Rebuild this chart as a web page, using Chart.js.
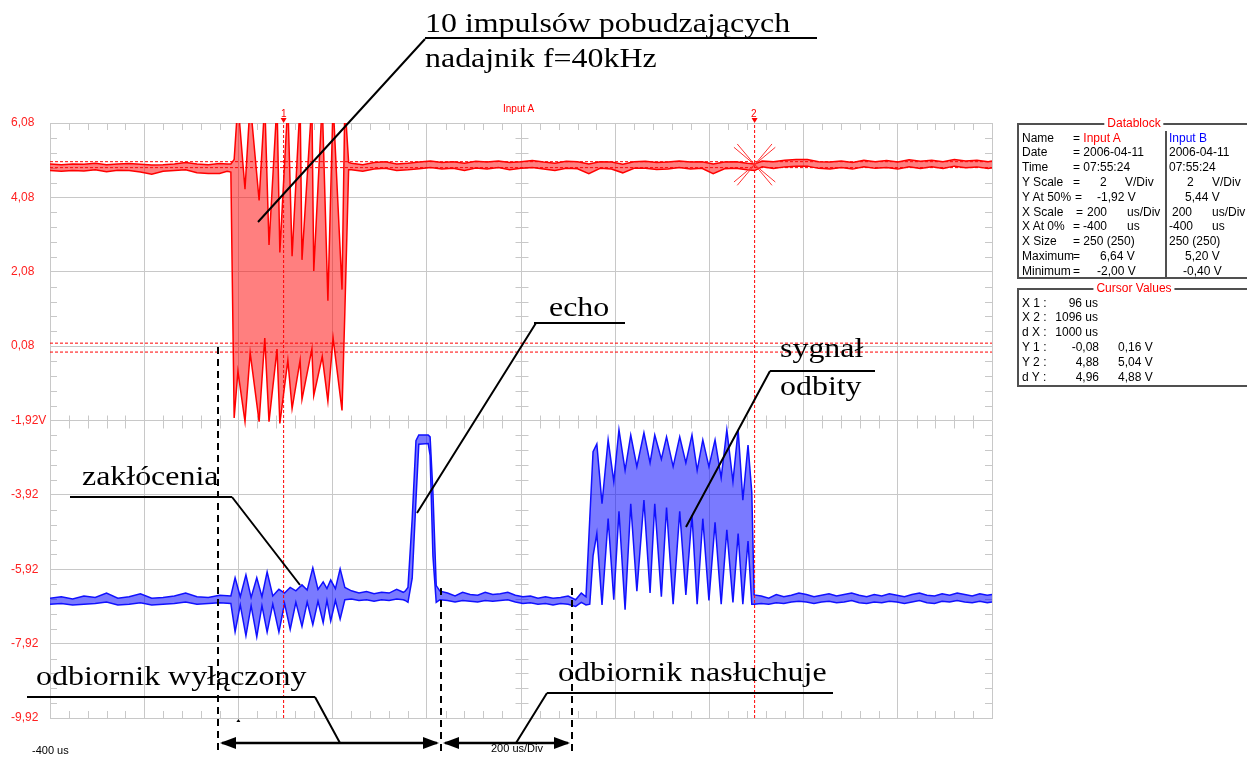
<!DOCTYPE html>
<html>
<head>
<meta charset="utf-8">
<script src="https://cdn.jsdelivr.net/npm/chart.js@4.4.1/dist/chart.umd.min.js"></script>
<style>
  body { margin: 0; background: #fff; overflow: hidden; }
  #wrap { position: relative; width: 1247px; height: 759px; overflow: hidden; }
  canvas { position: absolute; left: 0; top: 0; }
  .big { position: absolute; font-family: 'Liberation Serif', 'Times New Roman', serif; font-size: 28px; line-height: 28px;
         white-space: nowrap; transform: scaleX(1.14); transform-origin: 0 0; color: #000; }
  .s { position: absolute; font-family: 'Liberation Sans', Arial, sans-serif; font-size: 12px; line-height: 12px; white-space: pre; color: #000; }
  .sm { position: absolute; font-family: 'Liberation Sans', Arial, sans-serif; font-size: 10px; line-height: 10px; white-space: pre; }
  .box { position: absolute; border: 2px solid #505050; border-right: none; }
  .ttl { position: absolute; background: #fff; color: #ff0000; font-family: 'Liberation Sans', Arial, sans-serif;
         font-size: 12px; line-height: 12px; padding: 0 3px; transform: translateX(-50%); }
  .r { color: #ff0000; }
  .b { color: #0000ff; }
</style>
</head>
<body>
<div id="wrap">
<canvas id="c" width="1247" height="759"></canvas>

<div class="big" style="left:425px;top:9px">10 impulsów pobudzających</div>
<div class="big" style="left:425px;top:44px">nadajnik f=40kHz</div>
<div class="big" style="left:549px;top:293px">echo</div>
<div class="big" style="left:780px;top:334px">sygnał</div>
<div class="big" style="left:780px;top:372px">odbity</div>
<div class="big" style="left:82px;top:462px">zakłócenia</div>
<div class="big" style="left:36px;top:662px">odbiornik wyłączony</div>
<div class="big" style="left:558px;top:658px">odbiornik nasłuchuje</div>

<div class="sm r" style="left:503px;top:104px">Input A</div>
<div class="sm r" style="left:281px;top:109px">1</div>
<div class="sm r" style="left:751px;top:109px">2</div>
<div class="sm" style="left:32px;top:745px;font-size:11px">-400 us</div>
<div class="sm" style="left:491px;top:743px;font-size:11px">200 us/Div</div>

<!-- Datablock -->
<div class="box" style="left:1017px;top:123px;width:240px;height:152px"></div>
<div style="position:absolute;left:1165px;top:131px;width:2px;height:146px;background:#505050"></div>
<div class="ttl" style="left:1134px;top:117px">Datablock</div>
<div class="s" style="left:1022px;top:132px">Name</div><div class="s" style="left:1073px;top:132px">= <span class="r">Input A</span></div><div class="s b" style="left:1169px;top:132px">Input B</div>
<div class="s" style="left:1022px;top:146px">Date</div><div class="s" style="left:1073px;top:146px">= 2006-04-11</div><div class="s" style="left:1169px;top:146px">2006-04-11</div>
<div class="s" style="left:1022px;top:161px">Time</div><div class="s" style="left:1073px;top:161px">= 07:55:24</div><div class="s" style="left:1169px;top:161px">07:55:24</div>
<div class="s" style="left:1022px;top:176px">Y Scale</div><div class="s" style="left:1073px;top:176px">=</div><div class="s" style="left:1100px;top:176px">2</div><div class="s" style="left:1125px;top:176px">V/Div</div><div class="s" style="left:1187px;top:176px">2</div><div class="s" style="left:1212px;top:176px">V/Div</div>
<div class="s" style="left:1022px;top:191px">Y At 50%</div><div class="s" style="left:1075px;top:191px">=</div><div class="s" style="left:1097px;top:191px">-1,92 V</div><div class="s" style="left:1185px;top:191px">5,44 V</div>
<div class="s" style="left:1022px;top:206px">X Scale</div><div class="s" style="left:1076px;top:206px">=</div><div class="s" style="left:1087px;top:206px">200</div><div class="s" style="left:1127px;top:206px">us/Div</div><div class="s" style="left:1172px;top:206px">200</div><div class="s" style="left:1212px;top:206px">us/Div</div>
<div class="s" style="left:1022px;top:220px">X At 0%</div><div class="s" style="left:1073px;top:220px">=</div><div class="s" style="left:1083px;top:220px">-400</div><div class="s" style="left:1127px;top:220px">us</div><div class="s" style="left:1169px;top:220px">-400</div><div class="s" style="left:1212px;top:220px">us</div>
<div class="s" style="left:1022px;top:235px">X Size</div><div class="s" style="left:1073px;top:235px">= 250 (250)</div><div class="s" style="left:1169px;top:235px">250 (250)</div>
<div class="s" style="left:1022px;top:250px">Maximum</div><div class="s" style="left:1073px;top:250px">=</div><div class="s" style="left:1100px;top:250px">6,64 V</div><div class="s" style="left:1185px;top:250px">5,20 V</div>
<div class="s" style="left:1022px;top:265px">Minimum</div><div class="s" style="left:1073px;top:265px">=</div><div class="s" style="left:1097px;top:265px">-2,00 V</div><div class="s" style="left:1183px;top:265px">-0,40 V</div>

<!-- Cursor values -->
<div class="box" style="left:1017px;top:288px;width:240px;height:95px"></div>
<div class="ttl" style="left:1134px;top:282px">Cursor Values</div>
<div class="s" style="left:1022px;top:297px">X 1 :</div><div class="s" style="right:149px;top:297px">96 us</div>
<div class="s" style="left:1022px;top:311px">X 2 :</div><div class="s" style="right:149px;top:311px">1096 us</div>
<div class="s" style="left:1022px;top:326px">d X :</div><div class="s" style="right:149px;top:326px">1000 us</div>
<div class="s" style="left:1022px;top:341px">Y 1 :</div><div class="s" style="right:148px;top:341px">-0,08</div><div class="s" style="left:1118px;top:341px">0,16 V</div>
<div class="s" style="left:1022px;top:356px">Y 2 :</div><div class="s" style="right:148px;top:356px">4,88</div><div class="s" style="left:1118px;top:356px">5,04 V</div>
<div class="s" style="left:1022px;top:371px">d Y :</div><div class="s" style="right:148px;top:371px">4,96</div><div class="s" style="left:1118px;top:371px">4,88 V</div>
</div>

<script>
// axis divisions (us, V on the Input A scale)
const xTicks = [-400, -200, 0, 200, 400, 600, 800, 1000, 1200, 1400, 1600];
const yTicks = [-9.92, -7.92, -5.92, -3.92, -1.92, 0.08, 2.08, 4.08, 6.08];
// Input B is shown with its own offset: 5,44 V at the screen centre, 2 V/div
const bMin = -2.56, bMax = 13.44;

// cursors
const cursorX = [96, 1096];
const cursorY = [-0.08, 0.16, 4.88, 5.04];

// Input A (red) : time (us), upper and lower trace of the band (V)
const aT = [-400, -376, -352, -328, -304, -280, -256, -232, -208, -184, -160, -136, -112, -88, -64, -40, -24,
  -16, -9, -1, 14, 25, 44, 56, 65, 82, 88, 105, 114, 131, 135, 156, 160, 178, 190, 201, 220, 226, 234,
  240, 264, 288, 312, 336, 360, 384, 408, 432, 456, 480, 504, 528, 552, 576, 600, 624, 648, 672, 696,
  720, 744, 768, 792, 816, 840, 864, 888, 912, 936, 960, 984, 1008, 1032, 1056, 1080, 1096, 1112, 1136, 1160,
  1184, 1208, 1232, 1256, 1280, 1304, 1328, 1352, 1376, 1400, 1424, 1448, 1472, 1496, 1520, 1544, 1568, 1592, 1600];
const aHi = [4.98, 4.96, 4.98, 4.97, 5.00, 4.96, 4.98, 4.99, 4.97, 4.95, 4.96, 4.98, 5.02, 4.98, 4.96, 4.99, 4.98,
  4.98, 5.10, 6.64, 4.30, 6.64, 4.00, 6.64, 2.80, 6.64, 2.60, 6.64, 2.50, 6.64, 2.40, 6.64, 2.10, 6.64, 1.30, 6.64, 1.60, 6.64, 5.02,
  5.00, 4.96, 5.02, 5.04, 4.98, 5.00, 5.03, 5.06, 5.02, 5.04, 5.00, 5.05, 5.03, 5.06, 5.02, 5.04, 5.07, 5.03, 5.00, 5.05,
  5.04, 4.98, 5.04, 5.03, 4.97, 5.04, 5.05, 5.02, 5.03, 5.06, 5.03, 5.04, 4.98, 5.03, 5.04, 5.00, 4.98, 5.06, 5.04, 5.08,
  5.10, 5.10, 5.04, 5.03, 5.06, 5.02, 5.08, 5.04, 5.07, 5.03, 5.09, 5.05, 5.08, 5.04, 5.10, 5.06, 5.08, 5.04, 5.06];
const aLo = [4.80, 4.78, 4.80, 4.79, 4.82, 4.77, 4.81, 4.80, 4.76, 4.70, 4.78, 4.80, 4.82, 4.74, 4.72, 4.72, 4.78,
  4.76, -1.85, -0.60, -1.95, -0.10, -1.95, 0.30, -1.95, 0.00, -2.00, -0.30, -1.60, -0.30, -1.35, 0.00, -1.25, -0.20, -1.40, 0.30, -1.65, 1.00, 4.82,
  4.82, 4.78, 4.84, 4.86, 4.80, 4.82, 4.85, 4.88, 4.84, 4.86, 4.80, 4.87, 4.84, 4.88, 4.82, 4.86, 4.88, 4.84, 4.80, 4.86,
  4.85, 4.72, 4.86, 4.84, 4.74, 4.86, 4.86, 4.83, 4.84, 4.88, 4.84, 4.86, 4.72, 4.85, 4.86, 4.82, 4.80, 4.90, 4.86, 4.90,
  4.92, 4.92, 4.86, 4.84, 4.88, 4.84, 4.90, 4.86, 4.88, 4.84, 4.90, 4.86, 4.90, 4.86, 4.92, 4.88, 4.90, 4.86, 4.88];

// Input B (blue) : time (us), upper and lower trace of the band (V, own scale)
const bT = [-400, -376, -352, -328, -304, -280, -256, -232, -208, -184, -160, -136, -112, -88, -64, -40, -16,
  -7, 4, 16, 27, 39, 50, 61, 73, 86, 98, 110, 122, 135, 146, 158, 169, 180, 188, 196, 206, 216, 226,
  240, 256, 272, 288, 304, 320, 336, 350,
  354, 360, 369, 377, 383, 403, 407, 413, 420, 428,
  444, 460, 476, 492, 508, 524, 540, 556, 572, 588, 604, 620, 636, 652, 668, 684, 700, 716, 728,
  738, 746, 753, 761, 772, 785, 797, 808, 821, 833, 846, 861, 874, 884, 898, 909, 923, 937, 950, 963,
  974, 986, 999, 1012, 1025, 1037, 1050, 1061, 1071, 1082, 1090, 1095,
  1110, 1126, 1142, 1158, 1174, 1190, 1206, 1222, 1238, 1254, 1270, 1286, 1302, 1318, 1334, 1350,
  1366, 1382, 1398, 1414, 1430, 1446, 1462, 1478, 1494, 1510, 1526, 1542, 1558, 1574, 1590, 1600];
const bHi = [0.66, 0.70, 0.64, 0.72, 0.68, 0.80, 0.66, 0.70, 0.78, 0.66, 0.68, 0.72, 0.80, 0.70, 0.68, 0.74, 0.72,
  1.21, 0.70, 1.29, 0.68, 1.21, 0.70, 1.37, 0.72, 0.90, 0.80, 0.95, 0.86, 1.02, 0.88, 1.48, 0.90, 1.10, 0.92, 1.15, 0.92, 1.45, 0.95,
  0.86, 0.80, 0.84, 0.78, 0.82, 0.80, 0.90, 0.82,
  0.85, 0.95, 2.80, 4.90, 5.05, 5.05, 5.00, 3.50, 1.00, 0.85,
  0.80, 0.72, 0.82, 0.76, 0.74, 0.82, 0.76, 0.78, 0.82, 0.74, 0.70, 0.72, 0.66, 0.70, 0.66, 0.68, 0.72, 0.62, 0.80,
  0.70, 2.80, 4.60, 4.81, 3.20, 4.92, 3.80, 5.19, 4.10, 5.05, 4.20, 5.11, 4.30, 5.05, 4.40, 5.00, 4.20, 5.00, 4.30, 5.05,
  4.10, 4.92, 4.20, 4.92, 3.90, 5.19, 3.80, 5.19, 3.30, 4.78, 3.50, 0.75,
  0.72, 0.66, 0.76, 0.70, 0.74, 0.80, 0.76, 0.70, 0.74, 0.78, 0.72, 0.76, 0.80, 0.74, 0.70, 0.76,
  0.72, 0.78, 0.74, 0.70, 0.76, 0.80, 0.74, 0.72, 0.78, 0.74, 0.80, 0.76, 0.72, 0.78, 0.74, 0.76];
const bLo = [0.50, 0.52, 0.48, 0.50, 0.52, 0.56, 0.48, 0.50, 0.54, 0.48, 0.50, 0.52, 0.56, 0.50, 0.52, 0.54, 0.52,
  -0.24, 0.48, -0.35, 0.46, -0.38, 0.46, -0.25, 0.50, -0.25, 0.52, -0.18, 0.55, -0.10, 0.56, -0.05, 0.58, 0.00, 0.60, 0.05, 0.60, 0.10, 0.62,
  0.64, 0.60, 0.62, 0.58, 0.62, 0.60, 0.64, 0.62,
  0.60, 0.55, 1.20, 3.30, 4.80, 4.82, 4.50, 1.80, 0.55, 0.62,
  0.60, 0.56, 0.60, 0.58, 0.56, 0.60, 0.58, 0.60, 0.62, 0.56, 0.52, 0.54, 0.50, 0.52, 0.48, 0.52, 0.50, 0.44, 0.55,
  0.48, 0.50, 1.80, 2.40, 0.48, 2.80, 0.62, 3.00, 0.35, 3.20, 0.85, 3.30, 0.80, 3.20, 0.70, 3.10, 0.50, 3.00, 0.75, 2.90,
  0.50, 2.80, 0.60, 2.70, 0.50, 2.50, 0.55, 2.40, 0.50, 2.20, 0.50, 0.50,
  0.52, 0.50, 0.54, 0.52, 0.56, 0.58, 0.56, 0.52, 0.56, 0.58, 0.54, 0.56, 0.60, 0.54, 0.52, 0.56,
  0.54, 0.58, 0.56, 0.52, 0.56, 0.60, 0.54, 0.52, 0.58, 0.56, 0.60, 0.56, 0.54, 0.58, 0.54, 0.56];

// receiver gating marks (us)
const gateT = [-44, 430, 708];

const pts = (t, v) => t.map((x, i) => ({ x: x, y: v[i] }));

const band = (data, color, axis, order, fill) => ({
  data: data, yAxisID: axis, order: order, borderColor: color.line, borderWidth: 1.5,
  backgroundColor: color.fill, fill: fill, pointRadius: 0, tension: 0, clip: 0
});
const red = { line: '#ff0000', fill: 'rgba(255,0,0,0.5)' };
const blue = { line: '#1010ff', fill: 'rgba(0,0,255,0.52)' };

const cursorSets = [];
cursorX.forEach(v => cursorSets.push({ data: [{ x: v, y: yTicks[0] }, { x: v, y: yTicks[yTicks.length - 1] }] }));
cursorY.forEach(v => cursorSets.push({ data: [{ x: xTicks[0], y: v }, { x: xTicks[xTicks.length - 1], y: v }] }));
cursorSets.forEach(d => Object.assign(d, {
  yAxisID: 'yA', order: 0, borderColor: '#ff0000', borderWidth: 1, borderDash: [3, 2],
  pointRadius: 0, fill: false, clip: 0
}));

const decor = {
  id: 'decor',
  beforeDatasetsDraw(chart) {
    const { ctx, chartArea: a } = chart;
    const x = chart.scales.x, y = chart.scales.yA;
    const cx = Math.round(x.getPixelForValue(xTicks[5])) + 0.5;
    const cy = Math.round(y.getPixelForValue(yTicks[4])) + 0.5;
    ctx.save();
    ctx.strokeStyle = '#c8c8c8';
    ctx.lineWidth = 1;
    ctx.beginPath();
    for (let i = 0; i < xTicks.length - 1; i++) {
      for (let k = 1; k < 5; k++) {
        const px = Math.round(x.getPixelForValue(xTicks[i] + (xTicks[i + 1] - xTicks[i]) * k / 5)) + 0.5;
        ctx.moveTo(px, a.top); ctx.lineTo(px, a.top + 7);
        ctx.moveTo(px, a.bottom); ctx.lineTo(px, a.bottom - 7);
        ctx.moveTo(px, cy - 6); ctx.lineTo(px, cy + 7);
      }
    }
    for (let i = 0; i < yTicks.length - 1; i++) {
      for (let k = 1; k < 5; k++) {
        const py = Math.round(y.getPixelForValue(yTicks[i] + (yTicks[i + 1] - yTicks[i]) * k / 5)) + 0.5;
        ctx.moveTo(a.left, py); ctx.lineTo(a.left + 7, py);
        ctx.moveTo(a.right, py); ctx.lineTo(a.right - 7, py);
        ctx.moveTo(cx - 6, py); ctx.lineTo(cx + 7, py);
      }
    }
    ctx.stroke();
    ctx.restore();
  },
  afterDatasetsDraw(chart) {
    const { ctx, chartArea: a } = chart;
    const x = chart.scales.x, y = chart.scales.yA;
    ctx.save();
    ctx.fillStyle = '#ff0000';
    cursorX.forEach(v => {
      const px = x.getPixelForValue(v);
      ctx.beginPath();
      ctx.moveTo(px - 3, a.top - 5); ctx.lineTo(px + 3, a.top - 5); ctx.lineTo(px, a.top);
      ctx.closePath(); ctx.fill();
    });
    // cross on cursor 2
    const sx = x.getPixelForValue(cursorX[1]);
    const sy = y.getPixelForValue((cursorY[2] + cursorY[3]) / 2);
    ctx.strokeStyle = '#ff3030';
    ctx.lineWidth = 1;
    ctx.beginPath();
    [40, 50, 130, 140].forEach(d => {
      const r = d * Math.PI / 180, len = 27;
      ctx.moveTo(sx - Math.cos(r) * len, sy - Math.sin(r) * len);
      ctx.lineTo(sx + Math.cos(r) * len, sy + Math.sin(r) * len);
    });
    ctx.stroke();
    ctx.restore();
  },
  afterDraw(chart) {
    const { ctx, chartArea: a } = chart;
    const x = chart.scales.x;
    ctx.save();
    ctx.strokeStyle = '#000';
    ctx.fillStyle = '#000';
    ctx.lineWidth = 2;
    // leader lines of the annotations
    const segs = [[425, 38, 817, 38], [425, 39, 258, 222], [534, 323, 625, 323], [536, 323, 417, 513],
      [770, 371, 875, 371], [770, 371, 686, 527], [70, 497, 232, 497], [232, 497, 300, 585],
      [27, 697, 315, 697], [315, 697, 340, 743], [547, 693, 833, 693], [547, 693, 516, 743]];
    ctx.beginPath();
    segs.forEach(s => { ctx.moveTo(s[0], s[1]); ctx.lineTo(s[2], s[3]); });
    ctx.stroke();
    // dashed gate lines
    const g = gateT.map(v => Math.round(x.getPixelForValue(v)));
    ctx.setLineDash([7, 5]);
    ctx.beginPath();
    ctx.moveTo(g[0], 347); ctx.lineTo(g[0], 751);
    ctx.moveTo(g[1], 588); ctx.lineTo(g[1], 751);
    ctx.moveTo(g[2], 588); ctx.lineTo(g[2], 751);
    ctx.stroke();
    ctx.setLineDash([]);
    // arrows
    const ay = 743;
    ctx.lineWidth = 2.5;
    ctx.beginPath();
    ctx.moveTo(g[0] + 4, ay); ctx.lineTo(g[1] - 4, ay);
    ctx.moveTo(g[1] + 4, ay); ctx.lineTo(g[2] - 4, ay);
    ctx.stroke();
    const head = (tip, dir) => {
      ctx.beginPath();
      ctx.moveTo(tip, ay);
      ctx.lineTo(tip + dir * 16, ay - 6);
      ctx.lineTo(tip + dir * 16, ay + 6);
      ctx.closePath(); ctx.fill();
    };
    head(g[0] + 2, 1); head(g[1] - 2, -1); head(g[1] + 2, 1); head(g[2] - 2, -1);
    // trigger mark
    const tx = x.getPixelForValue(0);
    ctx.beginPath();
    ctx.moveTo(tx - 2, a.bottom + 4); ctx.lineTo(tx + 2, a.bottom + 4); ctx.lineTo(tx, a.bottom + 1);
    ctx.closePath(); ctx.fill();
    ctx.restore();
  }
};

new Chart(document.getElementById('c'), {
  type: 'line',
  data: {
    datasets: [
      band(pts(aT, aHi), red, 'yA', 1, false),
      band(pts(aT, aLo), red, 'yA', 1, '-1'),
      band(pts(bT, bHi), blue, 'yB', 2, false),
      band(pts(bT, bLo), blue, 'yB', 2, '-1'),
      ...cursorSets
    ]
  },
  options: {
    responsive: false,
    animation: false,
    events: [],
    layout: { padding: { left: 11, top: 123, right: 255, bottom: 41 } },
    plugins: { legend: { display: false }, tooltip: { enabled: false } },
    scales: {
      x: {
        type: 'linear', min: xTicks[0], max: xTicks[xTicks.length - 1],
        afterBuildTicks: s => { s.ticks = xTicks.map(v => ({ value: v })); },
        afterFit: s => { s.height = 0; },
        ticks: { display: false },
        grid: { color: '#c8c8c8', drawTicks: false },
        border: { color: '#c8c8c8' }
      },
      yA: {
        type: 'linear', position: 'left', min: yTicks[0], max: yTicks[yTicks.length - 1],
        afterBuildTicks: s => { s.ticks = yTicks.map(v => ({ value: v })); },
        afterFit: s => { s.width = 39; },
        ticks: {
          crossAlign: 'far', color: '#ff2020', autoSkip: false,
          font: { family: "'Liberation Sans', Arial, sans-serif", size: 12 },
          callback: v => v.toFixed(2).replace('.', ',') + (Math.abs(v + 1.92) < 1e-6 ? 'V' : '')
        },
        grid: { color: '#c8c8c8', drawTicks: false },
        border: { color: '#c8c8c8' }
      },
      yB: { type: 'linear', display: false, min: bMin, max: bMax }
    }
  },
  plugins: [decor]
});
</script>
</body>
</html>
